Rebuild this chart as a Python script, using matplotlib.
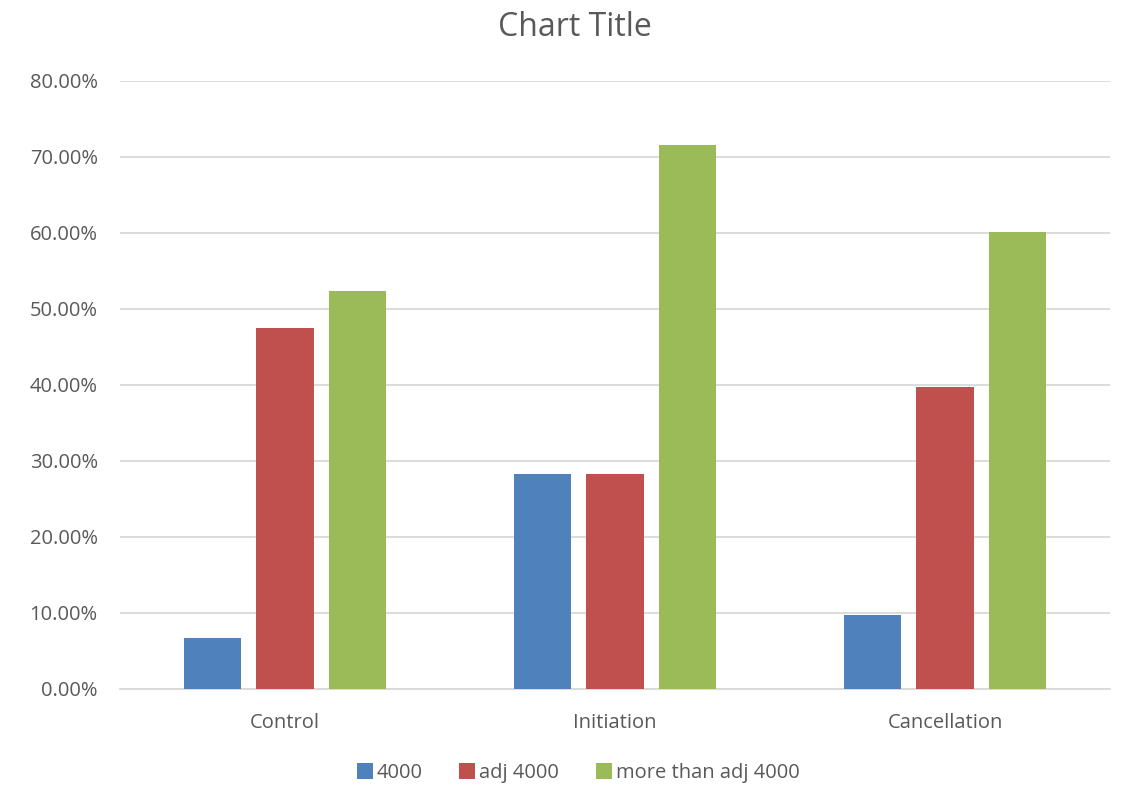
import numpy as np
import matplotlib.pyplot as plt
from matplotlib.ticker import PercentFormatter

categories = ["Control", "Initiation", "Cancellation"]
series_names = ["4000", "adj 4000", "more than adj 4000"]
vals_4000 = [0.067, 0.283, 0.097]
vals_adj = [0.475, 0.283, 0.397]
vals_more = [0.524, 0.716, 0.601]

colors = ["#4F81BD", "#C0504D", "#9BBB59"]
text_color = "#595959"

plt.rcParams["font.family"] = ["Open Sans", "DejaVu Sans"]

fig = plt.figure(figsize=(11.27, 7.93), dpi=100)
ax = fig.add_axes([120 / 1127, (793 - 689) / 793, 990 / 1127, 608 / 793])

x = np.arange(len(categories))
width = 0.173
step = 0.221
for k, (vals, name) in enumerate(zip([vals_4000, vals_adj, vals_more], series_names)):
    ax.bar(x + (k - 1) * step, vals, width, color=colors[k], label=name, zorder=3)

ax.set_xlim(-0.5, 2.5)
ax.set_ylim(0, 0.8)
ax.set_yticks(np.arange(0, 0.81, 0.1))
ax.yaxis.set_major_formatter(PercentFormatter(1.0, decimals=2))
ax.set_xticks(x)
ax.set_xticklabels(categories)
ax.grid(axis="y", color="#D9D9D9", linewidth=1.3, zorder=0)
for s in ["top", "right", "left"]:
    ax.spines[s].set_visible(False)
ax.spines["bottom"].set_color("#D9D9D9")
ax.spines["bottom"].set_linewidth(1.3)
ax.tick_params(axis="both", length=0, colors=text_color, labelsize=14.5)
ax.tick_params(axis="y", pad=16)
ax.tick_params(axis="x", pad=17)

fig.text(0.51, 1 - 27 / 793, "Chart Title", ha="center", va="center",
         fontsize=23, color=text_color)

fig.legend(loc="center", bbox_to_anchor=(0.513, 1 - 773 / 793), ncol=3,
           frameon=False, fontsize=14.5, labelcolor=text_color,
           handlelength=0.8, handleheight=0.8, handletextpad=0.2,
           columnspacing=1.8)

fig.savefig("out.png", dpi=100)
